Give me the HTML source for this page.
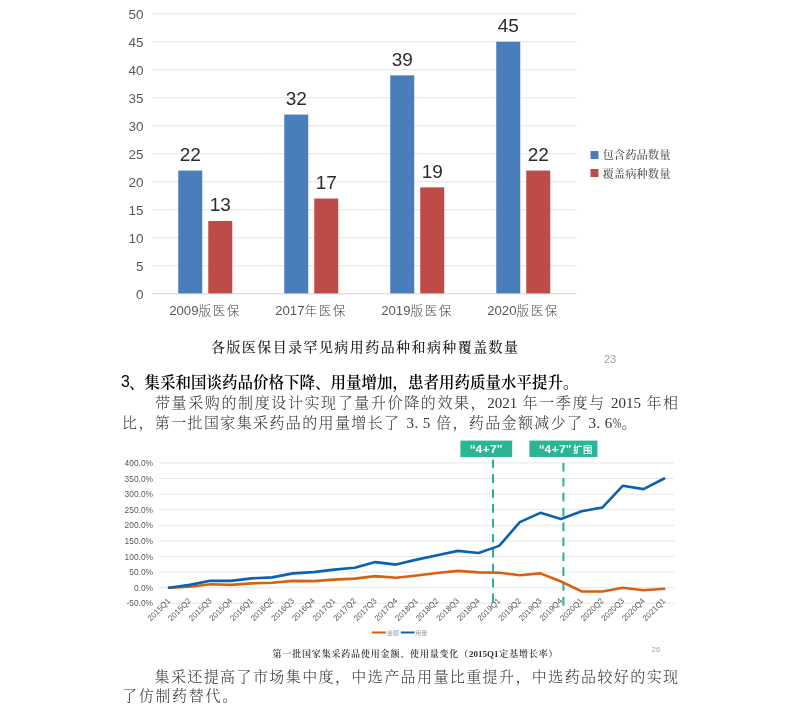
<!DOCTYPE html>
<html lang="zh-CN">
<head>
<meta charset="utf-8">
<title>集采和国谈药品价格下降、用量增加</title>
<style>
html,body{margin:0;padding:0;background:#fff;}
body{width:800px;height:706px;overflow:hidden;position:relative;font-family:"Liberation Sans","Noto Sans CJK SC",sans-serif;}
#page{position:absolute;left:0;top:0;width:800px;height:706px;overflow:hidden;background:#fff;}
svg{position:absolute;left:0;top:0;}
svg text{font-family:"Liberation Sans","Noto Sans CJK SC",sans-serif;}
.ax1{font-size:13.5px;fill:#595959;}
.cat1{font-size:13.2px;fill:#595959;}
.cj1{font-size:12.6px;letter-spacing:1.5px;font-weight:300;fill:#4a4a4a;}
.dl{font-size:19px;fill:#2b2b2b;}
.lg1{font-size:11.3px;fill:#505050;font-weight:500;font-family:"Liberation Serif","Noto Serif CJK SC",serif;}
.ax2{font-size:8.4px;fill:#595959;}
.cat2{font-size:8px;fill:#595959;}
.tb{font-size:10.5px;fill:#fff;font-weight:bold;}
.tbc{font-size:9.4px;fill:#fff;font-weight:bold;}
.lg2{font-size:6px;fill:#999;}
.pn1{font-size:11px;fill:#a0a0a0;}
.pn2{font-size:8px;fill:#a8a8a8;}
.t{position:absolute;white-space:nowrap;margin:0;text-align:justify;text-align-last:justify;}
.cap1{left:211px;top:336.7px;width:307px;height:22px;line-height:22px;font-size:14px;font-weight:500;color:#222;font-family:"Liberation Serif","Noto Serif CJK SC",serif;}
.h3{left:122px;top:371.7px;width:456px;height:22px;line-height:22px;font-size:15.5px;font-weight:600;color:#000;font-family:"Liberation Serif","Noto Serif CJK SC",serif;}
.p{font-size:15px;font-weight:300;color:#363636;font-family:"Liberation Serif","Noto Serif CJK SC",serif;height:21px;line-height:21px;}
.sn{font-family:"Liberation Sans",sans-serif;font-weight:normal;font-size:15.8px;margin-right:-1.8px;position:relative;left:-0.9px;top:-0.8px;}
.n{margin:0 5px 0 6px;letter-spacing:0.7px;}
.n2{margin:0 0 0 5px;}
.d{margin-right:3.75px;}
.pc{display:inline-block;width:8.6px;transform:scaleX(0.66);transform-origin:0 50%;letter-spacing:0;}
.p1a{left:155px;top:393px;width:523px;}
.p1b{left:122px;top:413.1px;width:530px;}
.nj{text-align:left;text-align-last:left;letter-spacing:1.375px;}
.cap2{left:272.5px;top:646px;width:285px;height:16px;line-height:16px;font-size:9px;font-weight:600;color:#333;font-family:"Liberation Serif","Noto Serif CJK SC",serif;}
.p2a{left:154.5px;top:666.8px;width:523.6px;}
.p2b{left:122px;top:685.6px;width:115.2px;}
</style>
</head>
<body>
<div id="page">
<svg width="800" height="706" viewBox="0 0 800 706">
<line x1="152" x2="576.5" y1="265.75" y2="265.75" stroke="#e4e4e4" stroke-width="1"/>
<line x1="152" x2="576.5" y1="237.75" y2="237.75" stroke="#e4e4e4" stroke-width="1"/>
<line x1="152" x2="576.5" y1="209.75" y2="209.75" stroke="#e4e4e4" stroke-width="1"/>
<line x1="152" x2="576.5" y1="181.75" y2="181.75" stroke="#e4e4e4" stroke-width="1"/>
<line x1="152" x2="576.5" y1="153.75" y2="153.75" stroke="#e4e4e4" stroke-width="1"/>
<line x1="152" x2="576.5" y1="125.75" y2="125.75" stroke="#e4e4e4" stroke-width="1"/>
<line x1="152" x2="576.5" y1="97.75" y2="97.75" stroke="#e4e4e4" stroke-width="1"/>
<line x1="152" x2="576.5" y1="69.75" y2="69.75" stroke="#e4e4e4" stroke-width="1"/>
<line x1="152" x2="576.5" y1="41.75" y2="41.75" stroke="#e4e4e4" stroke-width="1"/>
<line x1="152" x2="576.5" y1="13.75" y2="13.75" stroke="#e4e4e4" stroke-width="1"/>
<line x1="152" x2="576.5" y1="293.75" y2="293.75" stroke="#d2d2d2" stroke-width="1.2"/>
<text x="143.5" y="298.65" text-anchor="end" class="ax1">0</text>
<text x="143.5" y="270.65" text-anchor="end" class="ax1">5</text>
<text x="143.5" y="242.65" text-anchor="end" class="ax1">10</text>
<text x="143.5" y="214.65" text-anchor="end" class="ax1">15</text>
<text x="143.5" y="186.65" text-anchor="end" class="ax1">20</text>
<text x="143.5" y="158.65" text-anchor="end" class="ax1">25</text>
<text x="143.5" y="130.65" text-anchor="end" class="ax1">30</text>
<text x="143.5" y="102.65" text-anchor="end" class="ax1">35</text>
<text x="143.5" y="74.65" text-anchor="end" class="ax1">40</text>
<text x="143.5" y="46.65" text-anchor="end" class="ax1">45</text>
<text x="143.5" y="18.65" text-anchor="end" class="ax1">50</text>
<rect x="178.25" y="170.55" width="24" height="122.80" fill="#4a7ebb"/>
<rect x="208.25" y="220.95" width="24" height="72.40" fill="#be4b48"/>
<text x="190.25" y="160.95" text-anchor="middle" class="dl">22</text>
<text x="220.25" y="211.35" text-anchor="middle" class="dl">13</text>
<text x="205.00" y="315.2" text-anchor="middle" class="cat1">2009<tspan class="cj1">版医保</tspan></text>
<rect x="284.25" y="114.55" width="24" height="178.80" fill="#4a7ebb"/>
<rect x="314.25" y="198.55" width="24" height="94.80" fill="#be4b48"/>
<text x="296.25" y="104.95" text-anchor="middle" class="dl">32</text>
<text x="326.25" y="188.95" text-anchor="middle" class="dl">17</text>
<text x="311.00" y="315.2" text-anchor="middle" class="cat1">2017<tspan class="cj1">年医保</tspan></text>
<rect x="390.25" y="75.35" width="24" height="218.00" fill="#4a7ebb"/>
<rect x="420.25" y="187.35" width="24" height="106.00" fill="#be4b48"/>
<text x="402.25" y="65.75" text-anchor="middle" class="dl">39</text>
<text x="432.25" y="177.75" text-anchor="middle" class="dl">19</text>
<text x="417.00" y="315.2" text-anchor="middle" class="cat1">2019<tspan class="cj1">版医保</tspan></text>
<rect x="496.25" y="41.75" width="24" height="251.60" fill="#4a7ebb"/>
<rect x="526.25" y="170.55" width="24" height="122.80" fill="#be4b48"/>
<text x="508.25" y="32.15" text-anchor="middle" class="dl">45</text>
<text x="538.25" y="160.95" text-anchor="middle" class="dl">22</text>
<text x="523.00" y="315.2" text-anchor="middle" class="cat1">2020<tspan class="cj1">版医保</tspan></text>
<rect x="590.5" y="151" width="8" height="8" fill="#4a7ebb"/>
<rect x="590.5" y="169" width="8" height="8" fill="#be4b48"/>
<text x="602.5" y="159" class="lg1" textLength="68" lengthAdjust="spacing">包含药品数量</text>
<text x="602.5" y="177.8" class="lg1" textLength="68" lengthAdjust="spacing">覆盖病种数量</text>
<line x1="158.75" x2="674.5" y1="603.30" y2="603.30" stroke="#e6e6e6" stroke-width="1"/>
<line x1="158.75" x2="674.5" y1="587.70" y2="587.70" stroke="#e6e6e6" stroke-width="1"/>
<line x1="158.75" x2="674.5" y1="572.10" y2="572.10" stroke="#e6e6e6" stroke-width="1"/>
<line x1="158.75" x2="674.5" y1="556.50" y2="556.50" stroke="#e6e6e6" stroke-width="1"/>
<line x1="158.75" x2="674.5" y1="540.90" y2="540.90" stroke="#e6e6e6" stroke-width="1"/>
<line x1="158.75" x2="674.5" y1="525.30" y2="525.30" stroke="#e6e6e6" stroke-width="1"/>
<line x1="158.75" x2="674.5" y1="509.70" y2="509.70" stroke="#e6e6e6" stroke-width="1"/>
<line x1="158.75" x2="674.5" y1="494.10" y2="494.10" stroke="#e6e6e6" stroke-width="1"/>
<line x1="158.75" x2="674.5" y1="478.50" y2="478.50" stroke="#e6e6e6" stroke-width="1"/>
<line x1="158.75" x2="674.5" y1="462.90" y2="462.90" stroke="#e6e6e6" stroke-width="1"/>
<text x="153" y="606.30" text-anchor="end" class="ax2">-50.0%</text>
<text x="153" y="590.70" text-anchor="end" class="ax2">0.0%</text>
<text x="153" y="575.10" text-anchor="end" class="ax2">50.0%</text>
<text x="153" y="559.50" text-anchor="end" class="ax2">100.0%</text>
<text x="153" y="543.90" text-anchor="end" class="ax2">150.0%</text>
<text x="153" y="528.30" text-anchor="end" class="ax2">200.0%</text>
<text x="153" y="512.70" text-anchor="end" class="ax2">250.0%</text>
<text x="153" y="497.10" text-anchor="end" class="ax2">300.0%</text>
<text x="153" y="481.50" text-anchor="end" class="ax2">350.0%</text>
<text x="153" y="465.90" text-anchor="end" class="ax2">400.0%</text>
<text transform="translate(170.87,601.40) rotate(-45)" text-anchor="end" class="cat2">2015Q1</text>
<text transform="translate(191.50,601.40) rotate(-45)" text-anchor="end" class="cat2">2015Q2</text>
<text transform="translate(212.12,601.40) rotate(-45)" text-anchor="end" class="cat2">2015Q3</text>
<text transform="translate(232.75,601.40) rotate(-45)" text-anchor="end" class="cat2">2015Q4</text>
<text transform="translate(253.38,601.40) rotate(-45)" text-anchor="end" class="cat2">2016Q1</text>
<text transform="translate(274.01,601.40) rotate(-45)" text-anchor="end" class="cat2">2016Q2</text>
<text transform="translate(294.65,601.40) rotate(-45)" text-anchor="end" class="cat2">2016Q3</text>
<text transform="translate(315.28,601.40) rotate(-45)" text-anchor="end" class="cat2">2016Q4</text>
<text transform="translate(335.91,601.40) rotate(-45)" text-anchor="end" class="cat2">2017Q1</text>
<text transform="translate(356.54,601.40) rotate(-45)" text-anchor="end" class="cat2">2017Q2</text>
<text transform="translate(377.17,601.40) rotate(-45)" text-anchor="end" class="cat2">2017Q3</text>
<text transform="translate(397.80,601.40) rotate(-45)" text-anchor="end" class="cat2">2017Q4</text>
<text transform="translate(418.43,601.40) rotate(-45)" text-anchor="end" class="cat2">2018Q1</text>
<text transform="translate(439.06,601.40) rotate(-45)" text-anchor="end" class="cat2">2018Q2</text>
<text transform="translate(459.69,601.40) rotate(-45)" text-anchor="end" class="cat2">2018Q3</text>
<text transform="translate(480.31,601.40) rotate(-45)" text-anchor="end" class="cat2">2018Q4</text>
<text transform="translate(500.94,601.40) rotate(-45)" text-anchor="end" class="cat2">2019Q1</text>
<text transform="translate(521.57,601.40) rotate(-45)" text-anchor="end" class="cat2">2019Q2</text>
<text transform="translate(542.20,601.40) rotate(-45)" text-anchor="end" class="cat2">2019Q3</text>
<text transform="translate(562.83,601.40) rotate(-45)" text-anchor="end" class="cat2">2019Q4</text>
<text transform="translate(583.46,601.40) rotate(-45)" text-anchor="end" class="cat2">2020Q1</text>
<text transform="translate(604.09,601.40) rotate(-45)" text-anchor="end" class="cat2">2020Q2</text>
<text transform="translate(624.72,601.40) rotate(-45)" text-anchor="end" class="cat2">2020Q3</text>
<text transform="translate(645.35,601.40) rotate(-45)" text-anchor="end" class="cat2">2020Q4</text>
<text transform="translate(665.98,601.40) rotate(-45)" text-anchor="end" class="cat2">2021Q1</text>
<line x1="493" x2="493" y1="459.4" y2="602.4" stroke="#25b394" stroke-width="2" stroke-dasharray="8.6 6.3"/>
<line x1="563.4" x2="563.4" y1="463" y2="606.4" stroke="#25b394" stroke-width="2" stroke-dasharray="8.6 6.3"/>
<polyline points="169.06,587.70 189.69,586.76 210.32,584.27 230.95,584.89 251.58,583.33 272.21,582.71 292.85,580.84 313.48,581.15 334.11,579.59 354.74,578.65 375.37,576.16 396.00,577.72 416.62,575.53 437.25,573.04 457.88,570.85 478.51,572.41 499.14,572.72 519.77,575.22 540.40,573.35 561.03,581.46 581.66,591.44 602.29,591.44 622.92,587.70 643.55,590.20 664.18,588.82" fill="none" stroke="#d9600f" stroke-width="2.6" stroke-linejoin="round" stroke-linecap="round"/>
<polyline points="169.06,587.70 189.69,584.89 210.32,580.84 230.95,580.84 251.58,578.34 272.21,577.40 292.85,573.35 313.48,572.10 334.11,569.60 354.74,567.73 375.37,562.12 396.00,564.61 416.62,559.62 437.25,555.25 457.88,550.88 478.51,553.07 499.14,545.89 519.77,522.18 540.40,512.82 561.03,519.06 581.66,511.26 602.29,507.52 622.92,485.68 643.55,489.11 664.18,478.50" fill="none" stroke="#0a62b0" stroke-width="2.6" stroke-linejoin="round" stroke-linecap="round"/>
<rect x="460.4" y="440.6" width="51.8" height="16.4" fill="#2bb596"/>
<rect x="529.4" y="440.6" width="68" height="16.4" fill="#2bb596"/>
<text transform="translate(469.7,453) scale(1.15,1)" x="0 4.96 11.4 17.6 23.4" y="0" class="tb">“4+7”</text>
<text transform="translate(538.7,453) scale(1.15,1)" x="0 4.96 11.4 17.6 23.4" y="0" class="tb">“4+7”</text>
<text x="573" y="452.6" class="tbc" textLength="19.4" lengthAdjust="spacing">扩围</text>
<line x1="372" x2="386" y1="632.5" y2="632.5" stroke="#d9600f" stroke-width="2"/>
<line x1="400.8" x2="414.5" y1="632.5" y2="632.5" stroke="#0a62b0" stroke-width="2"/>
<text x="387" y="635" class="lg2">金额</text>
<text x="415.3" y="635" class="lg2">用量</text>
<text x="604" y="363" class="pn1">23</text>
<text x="651.6" y="652.3" class="pn2">26</text>
</svg>
<div class="t cap1">各版医保目录罕见病用药品种和病种覆盖数量</div>
<div class="t h3"><span class="sn">3</span>、集采和国谈药品价格下降、用量增加，患者用药质量水平提升。</div>
<div class="t p p1a">带量采购的制度设计实现了量升价降的效果，2021 年一季度与 2015 年相</div>
<div class="t p p1b nj">比，第一批国家集采药品的用量增长了<span class="n">3<span class="d">.</span>5</span>倍，药品金额减少了<span class="n n2">3<span class="d">.</span>6<span class="pc">%</span></span>。</div>
<div class="t cap2">第一批国家集采药品使用金额、使用量变化（2015Q1定基增长率）</div>
<div class="t p p2a">集采还提高了市场集中度，中选产品用量比重提升，中选药品较好的实现</div>
<div class="t p p2b">了仿制药替代。</div>
</div>
</body>
</html>
